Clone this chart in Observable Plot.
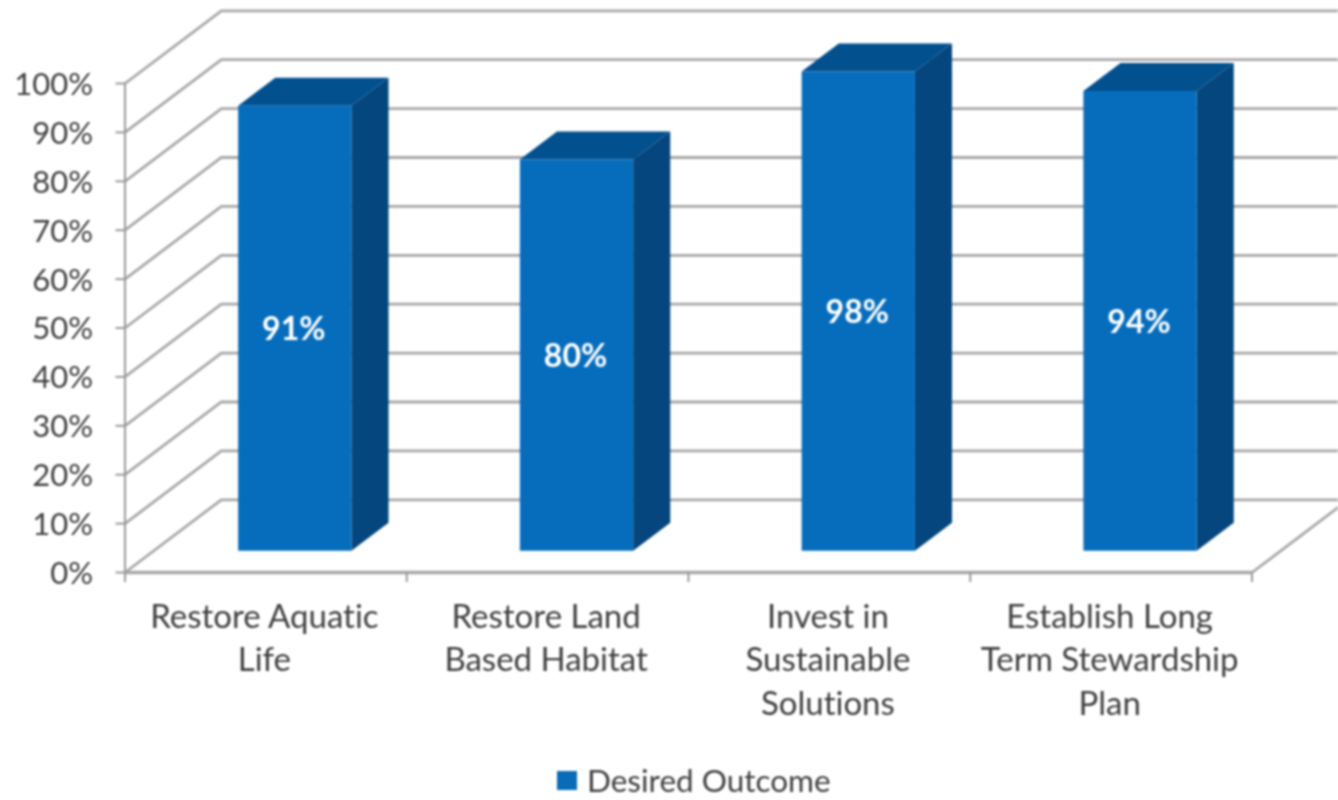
<!DOCTYPE html>
<html>
<head>
<meta charset="utf-8">
<script src="https://cdn.jsdelivr.net/npm/d3@7"></script>
<script src="https://cdn.jsdelivr.net/npm/@observablehq/plot@0.6"></script>
<style>
  html, body { margin: 0; padding: 0; background: #fff; overflow: hidden; }
  #chart svg { display: block; filter: blur(0.8px); font-variant-ligatures: none; }
  #legend { height: 36px; margin-top: 2px; display: flex; align-items: center; padding-left: 557px;
    font-family: Lato, sans-serif; font-size: 31.5px; color: #404040; filter: blur(0.8px); }
  #legend i { width: 20px; height: 19px; background: #0a6cb8; margin-right: 10px; display: block; }
  #legend span { display: block; line-height: 36px; height: 36px; }
</style>
</head>
<body>
<div id="chart"></div>
<div id="legend"><i></i><span>Desired Outcome</span></div>
<script>
const categories = ["Restore Aquatic\nLife", "Restore Land\nBased Habitat", "Invest in\nSustainable\nSolutions", "Establish Long\nTerm Stewardship\nPlan"];
const values = [91, 80, 98, 94];
const valueLabels = ["91%", "80%", "98%", "94%"];
const yTicks = [0, 10, 20, 30, 40, 50, 60, 70, 80, 90, 100];
const xBoundaries = [0, 1, 2, 3, 4];

// Oblique depth of the 3D box, in data units of the x and y scales
const wallX = 0.342, wallY = 14.87;
const gap = 0.30, barDepth = 0.385, barWidth = 0.402;

const project = (x, v, d) => ({x: x + d * wallX, y: v + d * wallY});

const walls = yTicks.flatMap((v) => [
  {k: v, ...project(0, v, 0)},
  {k: v, ...project(0, v, 1)},
  {k: v, ...project(4, v, 1)}
]);
const floorEdge = [{k: "r", ...project(4, 0, 0)}, {k: "r", ...project(4, 0, 1)}];

const faces = (pick) => values.flatMap((v, i) => {
  const a = i + 0.5 - barWidth / 2, b = i + 0.5 + barWidth / 2;
  const d0 = gap, d1 = gap + barDepth;
  const shape = pick === "front" ? [[a, 0, d0], [b, 0, d0], [b, v, d0], [a, v, d0]]
    : pick === "side" ? [[b, 0, d0], [b, 0, d1], [b, v, d1], [b, v, d0]]
    : [[a, v, d0], [b, v, d0], [b, v, d1], [a, v, d1]];
  return shape.map(([x, y, d]) => ({k: i, ...project(x, y, d)}));
});

const labelData = values.map((v, i) => ({
  label: valueLabels[i],
  ...project(i + 0.5, v / 2, gap)
}));

const categoryLabels = categories.map((label, i) => ({label, x: i + 0.5, y: 0}));

const gridColor = "#a8a8a8";
const inkColor = "#404040";

const chart = Plot.plot({
  width: 1338,
  height: 760,
  marginLeft: 124.5,
  marginRight: 86.5,
  marginTop: 83,
  marginBottom: 188,
  style: {background: "#fff", fontFamily: "Lato, sans-serif"},
  x: {type: "linear", domain: [0, 4], axis: null},
  y: {type: "linear", domain: [0, 100], axis: null},
  marks: [
    Plot.line(walls, {x: "x", y: "y", z: "k", stroke: gridColor, strokeWidth: 2.8, strokeLinejoin: "miter"}),
    Plot.line(floorEdge, {x: "x", y: "y", z: "k", stroke: gridColor, strokeWidth: 2.8}),
    Plot.ruleY([0], {x1: 0, x2: 4, stroke: gridColor, strokeWidth: 3.4}),
    Plot.ruleX([0], {y1: 0, y2: 100, stroke: "#9a9a9a", strokeWidth: 2}),
    Plot.axisY({
      ticks: yTicks, tickSize: 9, stroke: "#9a9a9a", strokeWidth: 2,
      tickFormat: () => "", label: null
    }),
    Plot.text(yTicks, {
      x: () => 0, y: (d) => d, text: (d) => d + "%", textAnchor: "end", dx: -32, dy: 1.5,
      fontSize: 31, fill: inkColor
    }),
    Plot.axisX({
      ticks: xBoundaries, tickSize: 10, stroke: "#9a9a9a", strokeWidth: 2, tickFormat: () => "", label: null
    }),
    Plot.line(faces("top"), {x: "x", y: "y", z: "k", fill: "#03508f", stroke: "none"}),
    Plot.line(faces("side"), {x: "x", y: "y", z: "k", fill: "#04467d", stroke: "none"}),
    Plot.line(faces("front"), {x: "x", y: "y", z: "k", fill: "#066dbd", stroke: "none"}),
    Plot.text(labelData, {x: "x", y: "y", text: "label", dx: -1, dy: 2, fill: "#fff", fontWeight: 700, fontSize: 32}),
    Plot.text(categoryLabels, {
      x: "x", y: "y", text: "label", lineAnchor: "top", dx: -1.5, dy: 24.5,
      fontSize: 33, lineHeight: 1.32, fill: inkColor
    })
  ]
});
document.getElementById("chart").append(chart);
</script>
</body>
</html>
